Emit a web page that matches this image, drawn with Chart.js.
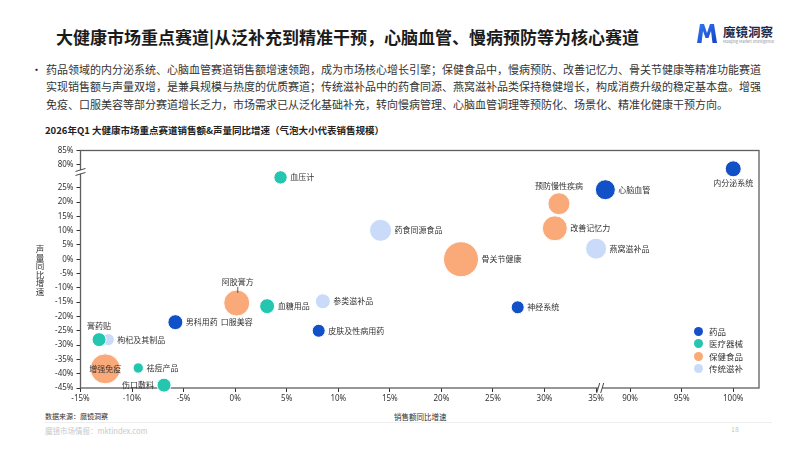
<!DOCTYPE html>
<html>
<head>
<meta charset="utf-8">
<script src="https://cdn.jsdelivr.net/npm/chart.js@4.4.1/dist/chart.umd.min.js"></script>
<style>
  body { margin: 0; width: 799px; height: 450px; background: #fff; font-family: "Noto Sans CJK SC", "Noto Sans", sans-serif; color: #222; position: relative; overflow: hidden; }
  .abs { position: absolute; white-space: nowrap; }
  #title { left: 56px; top: 24px; font-size: 17px; font-weight: 700; color: #1b1b1b; }
  .para { left: 46px; font-size: 11px; color: #333; line-height: 14px; }
  #bullet { left: 31px; top: 61px; font-size: 11px; }
  #ctitle { left: 45px; top: 123px; font-size: 9.5px; font-weight: 700; color: #222; }
  #ytitle { left: 35px; top: 244px; font-size: 8.5px; line-height: 8.6px; color: #333; text-align: center; width: 10px; }
  #xtitle { left: 394px; top: 411px; font-size: 7.5px; color: #333; }
  #source { left: 45px; top: 411px; font-size: 7px; color: #333; }
  #rule { left: 44px; top: 422px; width: 728px; height: 1px; background: #eeeeee; }
  #foot { left: 45px; top: 425px; font-size: 7.5px; color: #c8c8c8; }
  #page { left: 731px; top: 424px; font-size: 7px; color: #c8c8c8; }
  #legend { left: 694px; top: 325px; font-size: 8.5px; color: #333; }
  #legend div { height: 12.4px; line-height: 12.4px; }
  #legend span { display: inline-block; width: 9px; height: 9px; border-radius: 50%; vertical-align: -1px; margin-right: 6px; }
  #logoText { left: 723px; top: 22px; font-size: 12.5px; font-weight: 700; color: #1d2b4f; }
  #logoSub { left: 723px; top: 38px; font-size: 4px; color: #8a93a8; }
</style>
</head>
<body>
<div id="title" class="abs">大健康市场重点赛道|从泛补充到精准干预，心脑血管、慢病预防等为核心赛道</div>
<svg class="abs" style="left:697px;top:24px" width="20" height="19" viewBox="0 0 20 19">
  <defs><linearGradient id="g" x1="0" y1="0" x2="1" y2="1"><stop offset="0" stop-color="#2f7bf0"/><stop offset="1" stop-color="#1a3fc4"/></linearGradient></defs>
  <path d="M0 19 L3 0 L7 0 L10 9 L13 0 L17 0 L20 19 L15.5 19 L14 7 L11.5 14 L8.5 14 L6 7 L4.5 19 Z" fill="url(#g)"/>
</svg>
<div id="logoText" class="abs">魔镜洞察</div>
<div id="logoSub" class="abs">Moojing Market Intelligence</div>

<div id="bullet" class="abs">•</div>
<div class="abs para" style="top:62px">药品领域的内分泌系统、心脑血管赛道销售额增速领跑，成为市场核心增长引擎；保健食品中，慢病预防、改善记忆力、骨关节健康等精准功能赛道</div>
<div class="abs para" style="top:79px">实现销售额与声量双增，是兼具规模与热度的优质赛道；传统滋补品中的药食同源、燕窝滋补品类保持稳健增长，构成消费升级的稳定基本盘。增强</div>
<div class="abs para" style="top:97px">免疫、口服美容等部分赛道增长乏力，市场需求已从泛化基础补充，转向慢病管理、心脑血管调理等预防化、场景化、精准化健康干预方向。</div>

<div id="ctitle" class="abs">2026年Q1 大健康市场重点赛道销售额&amp;声量同比增速（气泡大小代表销售规模）</div>

<canvas id="chart" width="799" height="278" style="position:absolute;left:0;top:132px"></canvas>

<div id="ytitle" class="abs">声<br>量<br>同<br>比<br>增<br>速</div>
<div id="xtitle" class="abs">销售额同比增速</div>
<div id="source" class="abs">数据来源：魔镜洞察</div>
<div id="rule" class="abs"></div>
<div id="foot" class="abs">魔镜市场情报：mktindex.com</div>
<div id="page" class="abs">18</div>
<div id="legend" class="abs"></div>

<script>
// 分类
const groups = ['药品', '医疗器械', '保健食品', '传统滋补'];
const groupColors = ['#1150c6', '#25c6b0', '#f9aa78', '#c9dbf8'];

// 各赛道：名称 / 销售额同比(%) / 声量同比(%) / 气泡大小
const drugNames = ['内分泌系统', '心脑血管', '神经系统', '男科用药', '皮肤及性病用药'];
const drugX = [100, 35.9, 27.4, -5.8, 8.1];
const drugY = [78.6, 24.3, -16.8, -22.0, -25.0];
const drugSize = [8, 10, 6.5, 7.5, 6.5];

const deviceNames = ['血压计', '血糖用品', '膏药贴', '祛痘产品', '伤口敷料'];
const deviceX = [4.4, 3.1, -13.2, -9.4, -6.9];
const deviceY = [28.6, -16.4, -28.1, -38.0, -44.0];
const deviceSize = [6.7, 7.5, 7, 5.2, 7];

const healthNames = ['预防慢性疾病', '改善记忆力', '骨关节健康', '口服美容', '增强免疫'];
const healthX = [31.4, 31.0, 21.9, 0.15, -12.6];
const healthY = [19.4, 10.8, 0, -15.3, -38.3];
const healthSize = [11, 12.5, 17.5, 13, 15];

const tonicNames = ['药食同源食品', '燕窝滋补品', '参类滋补品', '阿胶膏方', '枸杞及其制品'];
const tonicX = [14.1, 35.0, 8.5, 0.35, -12.3];
const tonicY = [10.1, 3.7, -14.7, -14.2, -28.1];
const tonicSize = [11, 10.5, 7.5, 6, 6];

// 坐标轴刻度（含断轴）
const xTicks = [-15, -10, -5, 0, 5, 10, 15, 20, 25, 30, 35, 90, 95, 100];
const yTicks = [-45, -40, -35, -30, -25, -20, -15, -10, -5, 0, 5, 10, 15, 20, 25, 80, 85];

// 断轴映射
const xMap = v => v >= 60 ? v - 51.7 : v;
const yMap = v => v >= 50 ? v - 47 : v;
const xUnmap = v => v >= 36 ? v + 51.7 : v;
const yUnmap = v => v >= 30 ? v + 47 : v;

// 标签位置
const labelPos = {
  '内分泌系统': 'b', '口服美容': 'b', '预防慢性疾病': 't', '膏药贴': 't',
  '阿胶膏方': 'tl', '伤口敷料': 'l', '增强免疫': 'c'
};

const series = [
  [drugNames, drugX, drugY, drugSize],
  [deviceNames, deviceX, deviceY, deviceSize],
  [healthNames, healthX, healthY, healthSize],
  [tonicNames, tonicX, tonicY, tonicSize]
];

const datasets = series.map(([names, xs, ys, rs], i) => ({
  label: groups[i],
  data: names.map((n, j) => ({ x: xMap(xs[j]), y: yMap(ys[j]), r: rs[j], name: n })),
  backgroundColor: groupColors[i],
  borderColor: '#ffffff',
  borderWidth: 1,
  hoverRadius: 0,
  clip: false
}));

const legend = document.getElementById('legend');
groups.forEach((g, i) => {
  legend.innerHTML += `<div><span style="background:${groupColors[i]}"></span>${g}</div>`;
});

const bubbleLabels = {
  id: 'bubbleLabels',
  afterDatasetsDraw(chart) {
    const ctx = chart.ctx;
    ctx.save();
    ctx.font = '8px "Noto Sans CJK SC"';
    ctx.fillStyle = '#333';
    chart.data.datasets.forEach((ds, i) => {
      chart.getDatasetMeta(i).data.forEach((el, j) => {
        const name = ds.data[j].name;
        const r = ds.data[j].r;
        const pos = labelPos[name] || 'r';
        let x = el.x, y = el.y;
        ctx.textBaseline = 'middle';
        if (pos === 'r') { ctx.textAlign = 'left'; x += r + 3; }
        else if (pos === 'l') { ctx.textAlign = 'right'; x -= r + 3; }
        else if (pos === 't') { ctx.textAlign = 'center'; y -= r + 7; }
        else if (pos === 'b') { ctx.textAlign = 'center'; y += r + 6; }
        else if (pos === 'tl') {
          ctx.textAlign = 'center'; y -= r + 12;
          ctx.strokeStyle = '#333'; ctx.lineWidth = 0.8;
          ctx.beginPath(); ctx.moveTo(el.x - 1, el.y - r - 1); ctx.lineTo(el.x - 1, el.y - r - 7); ctx.stroke();
          x -= 1;
        }
        else { ctx.textAlign = 'center'; }
        ctx.fillText(name, x, y);
      });
    });
    ctx.restore();
  }
};

const frame = {
  id: 'frame',
  beforeDatasetsDraw(chart) {
    const { ctx, chartArea: a, scales } = chart;
    ctx.save();
    ctx.strokeStyle = '#5f5f5f';
    ctx.lineWidth = 1.3;
    ctx.strokeRect(a.left, a.top, a.right - a.left, a.bottom - a.top);
    // y 断轴
    const by = scales.y.getPixelForValue(30.5);
    ctx.fillStyle = '#fff';
    ctx.fillRect(a.left - 2, by - 2, 4, 4);
    ctx.lineWidth = 0.9;
    ctx.strokeStyle = '#333';
    [-2, 2].forEach(d => {
      ctx.beginPath(); ctx.moveTo(a.left - 5, by + d + 1.5); ctx.lineTo(a.left + 5, by + d - 1.5); ctx.stroke();
    });
    // x 断轴
    const bx = scales.x.getPixelForValue(35.4);
    ctx.fillRect(bx - 2, a.bottom - 2, 4, 4);
    [-2, 2].forEach(d => {
      ctx.beginPath(); ctx.moveTo(bx + d - 1.5, a.bottom + 5); ctx.lineTo(bx + d + 1.5, a.bottom - 5); ctx.stroke();
    });
    ctx.restore();
  }
};

Chart.defaults.font.family = '"Noto Sans", "Noto Sans CJK SC"';
Chart.defaults.color = '#333';

new Chart(document.getElementById('chart'), {
  type: 'bubble',
  data: { datasets },
  options: {
    responsive: false,
    animation: false,
    layout: { padding: { left: 0, right: 40, top: 10.5, bottom: 0 } },
    plugins: { legend: { display: false }, tooltip: { enabled: false } },
    events: [],
    scales: {
      x: {
        type: 'linear', min: -15, max: 50.8,
        afterBuildTicks: s => { s.ticks = xTicks.map(v => ({ value: xMap(v) })); },
        afterFit: s => { s.height = 22; },
        border: { display: false },
        grid: { drawOnChartArea: false, drawTicks: true, tickLength: 4, color: '#333', tickWidth: 1 },
        ticks: { font: { size: 8 }, padding: 2, maxRotation: 0, autoSkip: false,
          callback: v => Math.round(xUnmap(v)) + '%' }
      },
      y: {
        type: 'linear', min: -45, max: 38,
        afterBuildTicks: s => { s.ticks = yTicks.map(v => ({ value: yMap(v) })); },
        afterFit: s => { s.width = 80.5; },
        border: { display: false },
        grid: { drawOnChartArea: false, drawTicks: true, tickLength: 4, color: '#333', tickWidth: 1 },
        ticks: { font: { size: 8 }, padding: 3, autoSkip: false,
          callback: v => Math.round(yUnmap(v)) + '%' }
      }
    }
  },
  plugins: [frame, bubbleLabels]
});
</script>
</body>
</html>
